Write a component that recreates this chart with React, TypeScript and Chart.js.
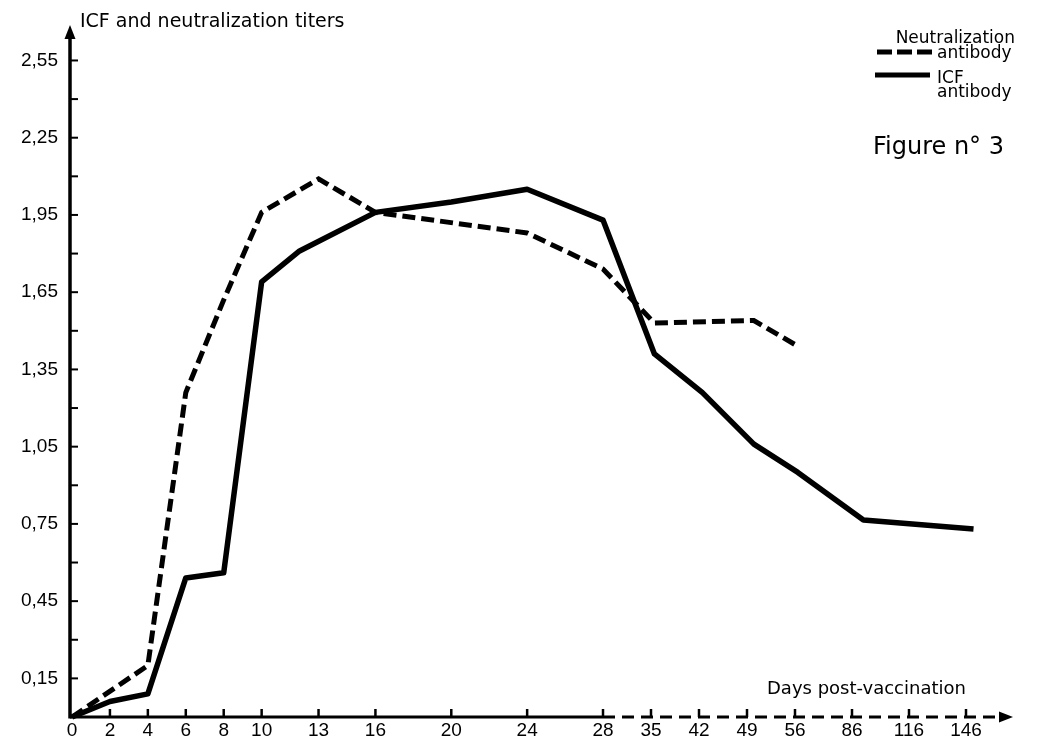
import React, { useEffect, useRef } from 'react';
import { Chart, registerables, LinearScale } from 'chart.js';

Chart.register(...registerables);

// ---------------- data ----------------
const X_TICK_DAYS = [0, 2, 4, 6, 8, 10, 13, 16, 20, 24, 28, 35, 42, 49, 56, 86, 116, 146];
const Y_TICK_VALUES = [0.15, 0.45, 0.75, 1.05, 1.35, 1.65, 1.95, 2.25, 2.55];
const Y_MINOR_VALUES = [0.3, 0.6, 0.9, 1.2, 1.5, 1.8, 2.1, 2.4];

const NEUT_DAYS = [0, 4, 6, 8, 10, 13, 16, 24, 28, 35.5, 50, 57.5];
const NEUT_TITERS = [0, 0.2, 1.26, 1.62, 1.96, 2.09, 1.96, 1.88, 1.74, 1.53, 1.54, 1.44];

const ICF_DAYS = [0, 2, 4, 6, 8, 10, 12, 16, 20, 24, 28, 35.5, 42.5, 50, 57.5, 92, 150];
const ICF_TITERS = [0, 0.06, 0.09, 0.54, 0.56, 1.69, 1.81, 1.96, 2.0, 2.05, 1.93, 1.41, 1.26, 1.06, 0.95, 0.765, 0.73];

const TITLE_Y = 'ICF and neutralization titers';
const TITLE_X = 'Days post-vaccination';
const LEGEND_NEUT = ['Neutralization', 'antibody'];
const LEGEND_ICF = ['ICF', 'antibody'];
const FIGURE_LABEL = 'Figure n° 3';

// ------------- segmented (broken) day axis -------------
// The original axis is drawn with three different day spacings.
const SEG_DAYS = [0, 28, 56, 146, 171];
const SEG_SPAN = [0, 531, 723, 894, 941];

function dayToFrac(d: number): number {
  const n = SEG_DAYS.length;
  const total = SEG_SPAN[n - 1];
  for (let i = 1; i < n; i++) {
    if (d <= SEG_DAYS[i] || i === n - 1) {
      const t = (d - SEG_DAYS[i - 1]) / (SEG_DAYS[i] - SEG_DAYS[i - 1]);
      return (SEG_SPAN[i - 1] + t * (SEG_SPAN[i] - SEG_SPAN[i - 1])) / total;
    }
  }
  return 0;
}

function fracToDay(f: number): number {
  const n = SEG_DAYS.length;
  const p = f * SEG_SPAN[n - 1];
  for (let i = 1; i < n; i++) {
    if (p <= SEG_SPAN[i] || i === n - 1) {
      const t = (p - SEG_SPAN[i - 1]) / (SEG_SPAN[i] - SEG_SPAN[i - 1]);
      return SEG_DAYS[i - 1] + t * (SEG_DAYS[i] - SEG_DAYS[i - 1]);
    }
  }
  return 0;
}

class SegmentedDayScale extends LinearScale {
  static id = 'segmentedDays';
  getPixelForValue(value: number) {
    return this.getPixelForDecimal(dayToFrac(value));
  }
  getValueForPixel(pixel: number) {
    return fracToDay(this.getDecimalForPixel(pixel));
  }
}
Chart.register(SegmentedDayScale as any);

// ------------- decorations (axes, arrows, legend, labels) -------------
const decorPlugin = {
  id: 'decor',
  afterDraw(chart: any) {
    const { ctx, chartArea, scales } = chart;
    const xs = scales.x;
    const ys = scales.y;
    const ax = chartArea.left - 2;
    const y0 = ys.getPixelForValue(0);
    ctx.save();
    ctx.strokeStyle = '#000';
    ctx.fillStyle = '#000';

    // y axis
    ctx.lineWidth = 3.5;
    ctx.setLineDash([]);
    ctx.beginPath();
    ctx.moveTo(ax, y0 + 1.5);
    ctx.lineTo(ax, chartArea.top + 8);
    ctx.stroke();
    ctx.beginPath();
    ctx.moveTo(ax, chartArea.top - 2);
    ctx.lineTo(ax - 5.5, chartArea.top + 12);
    ctx.lineTo(ax + 5.5, chartArea.top + 12);
    ctx.closePath();
    ctx.fill();

    // y ticks (inside)
    ctx.lineWidth = 2;
    [...Y_TICK_VALUES, ...Y_MINOR_VALUES].forEach((v) => {
      const py = ys.getPixelForValue(v);
      ctx.beginPath();
      ctx.moveTo(ax, py);
      ctx.lineTo(ax + 8, py);
      ctx.stroke();
    });

    // x axis: solid part then dashed part
    const x28 = xs.getPixelForValue(28);
    ctx.lineWidth = 3;
    ctx.beginPath();
    ctx.moveTo(ax, y0);
    ctx.lineTo(x28, y0);
    ctx.stroke();
    ctx.setLineDash([12, 7]);
    ctx.beginPath();
    ctx.moveTo(x28, y0);
    ctx.lineTo(chartArea.right - 10, y0);
    ctx.stroke();
    ctx.setLineDash([]);
    ctx.beginPath();
    ctx.moveTo(chartArea.right, y0);
    ctx.lineTo(chartArea.right - 14, y0 - 5.5);
    ctx.lineTo(chartArea.right - 14, y0 + 5.5);
    ctx.closePath();
    ctx.fill();

    // x ticks (upward)
    ctx.lineWidth = 2.5;
    X_TICK_DAYS.forEach((d) => {
      if (d === 0) return;
      const px = xs.getPixelForValue(d);
      ctx.beginPath();
      ctx.moveTo(px, y0);
      ctx.lineTo(px, y0 - 8);
      ctx.stroke();
    });

    // axis titles
    ctx.textBaseline = 'alphabetic';
    ctx.textAlign = 'left';
    ctx.font = '19px "DejaVu Sans"';
    ctx.fillText(TITLE_Y, 80, 27);
    ctx.font = '18px "DejaVu Sans"';
    ctx.fillText(TITLE_X, 767, 694);

    // legend
    ctx.font = '17px "DejaVu Sans"';
    ctx.textAlign = 'right';
    ctx.fillText(LEGEND_NEUT[0], 1015, 43);
    ctx.textAlign = 'left';
    ctx.fillText(LEGEND_NEUT[1], 937, 58);
    ctx.fillText(LEGEND_ICF[0], 937, 83);
    ctx.fillText(LEGEND_ICF[1], 937, 97);
    ctx.lineWidth = 5;
    ctx.setLineDash([15, 5]);
    ctx.beginPath();
    ctx.moveTo(877, 52);
    ctx.lineTo(932, 52);
    ctx.stroke();
    ctx.setLineDash([]);
    ctx.beginPath();
    ctx.moveTo(875, 75);
    ctx.lineTo(930, 75);
    ctx.stroke();

    // figure label
    ctx.font = '24px "DejaVu Sans"';
    ctx.fillText(FIGURE_LABEL, 873, 154);
    ctx.restore();
  },
};

export default function App() {
  const ref = useRef<HTMLCanvasElement>(null);

  useEffect(() => {
    const canvas = ref.current;
    if (!canvas) return;
    const chart = new Chart(canvas, {
      type: 'line',
      data: {
        datasets: [
          {
            label: 'Neutralization antibody',
            data: NEUT_DAYS.map((d, i) => ({ x: d, y: NEUT_TITERS[i] })),
            borderColor: '#000',
            borderWidth: 5,
            borderDash: [13, 6],
            borderCapStyle: 'butt',
            borderJoinStyle: 'miter',
            pointRadius: 0,
            tension: 0,
            fill: false,
            clip: false,
          },
          {
            label: 'ICF antibody',
            data: ICF_DAYS.map((d, i) => ({ x: d, y: ICF_TITERS[i] })),
            borderColor: '#000',
            borderWidth: 5.5,
            borderJoinStyle: 'round',
            pointRadius: 0,
            tension: 0,
            fill: false,
            clip: false,
          },
        ],
      },
      options: {
        responsive: false,
        animation: false,
        layout: { padding: { top: 27, right: 28, bottom: 0, left: 0 } },
        plugins: {
          legend: { display: false },
          tooltip: { enabled: false },
          title: { display: false },
        },
        scales: {
          x: {
            type: 'segmentedDays' as any,
            min: 0,
            max: 171,
            grid: { display: false, drawTicks: false },
            border: { display: false },
            afterBuildTicks: (scale: any) => {
              scale.ticks = X_TICK_DAYS.map((v) => ({ value: v }));
            },
            afterFit: (scale: any) => {
              scale.height = 26;
            },
            ticks: {
              autoSkip: false,
              maxRotation: 0,
              padding: 2,
              color: '#000',
              font: { family: 'Liberation Sans', size: 19 },
              callback: (v: any) => String(v),
            },
          },
          y: {
            type: 'linear',
            min: 0,
            max: 2.68,
            grid: { display: false, drawTicks: false },
            border: { display: false },
            afterBuildTicks: (scale: any) => {
              scale.ticks = Y_TICK_VALUES.map((v) => ({ value: v }));
            },
            afterFit: (scale: any) => {
              scale.width = 72;
            },
            ticks: {
              padding: 14,
              color: '#000',
              font: { family: 'Liberation Sans', size: 19 },
              callback: (v: any) => Number(v).toFixed(2).replace('.', ','),
            },
          },
        },
      },
      plugins: [decorPlugin],
    } as any);
    return () => chart.destroy();
  }, []);

  return (
    <div style={{ position: 'absolute', left: 0, top: 0, width: 1041, height: 743, background: '#fff' }}>
      <canvas ref={ref} width={1041} height={743} style={{ display: 'block' }} />
    </div>
  );
}
